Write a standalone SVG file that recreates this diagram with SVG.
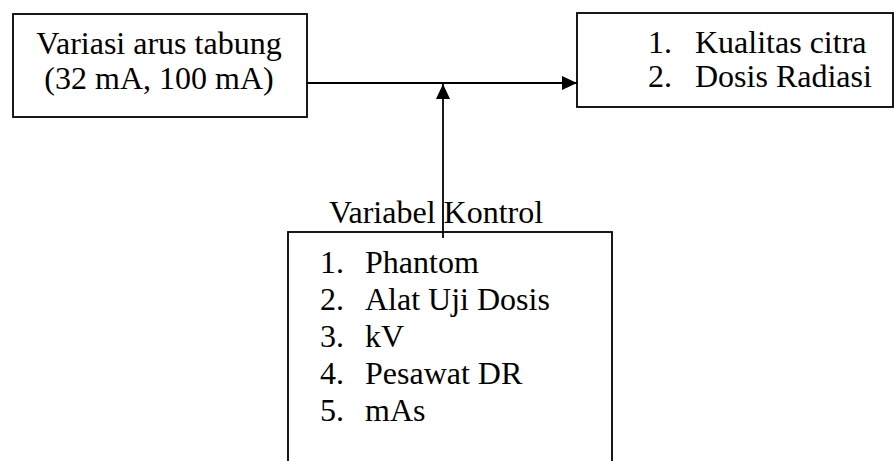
<svg xmlns="http://www.w3.org/2000/svg" width="894" height="461" viewBox="0 0 894 461">
<style>
.box{fill:#fff;stroke:#000;stroke-width:1.8}
.t{font-family:"Liberation Serif","Times New Roman",serif;font-size:32px;fill:#000}
.ln{stroke:#000;stroke-width:1.8;fill:none}
</style>
<defs>
<marker id="ah" markerWidth="16" markerHeight="16" viewBox="0 0 16 16" refX="15" refY="8" orient="auto" markerUnits="userSpaceOnUse">
<path d="M0,1 L15,8 L0,15 Z" fill="#000"/>
</marker>
</defs>
<g id="node-variasi">
<rect class="box" x="13" y="14" width="294" height="103"/>
<text class="t" x="159" y="54" text-anchor="middle">Variasi arus tabung</text>
<text class="t" x="159" y="89" text-anchor="middle">(32 mA, 100 mA)</text>
</g>
<g id="node-hasil">
<rect class="box" x="577" y="13" width="316" height="94"/>
<text class="t"><tspan x="648" y="53">1.</tspan><tspan x="695" y="53">Kualitas citra</tspan></text>
<text class="t"><tspan x="648" y="87">2.</tspan><tspan x="695" y="87">Dosis Radiasi</tspan></text>
</g>
<g id="node-kontrol">
<text class="t" x="436" y="223" text-anchor="middle">Variabel Kontrol</text>
<rect class="box" x="288" y="232" width="324" height="250"/>
<text class="t"><tspan x="320" y="273">1.</tspan><tspan x="365" y="273">Phantom</tspan></text>
<text class="t"><tspan x="320" y="310">2.</tspan><tspan x="365" y="310">Alat Uji Dosis</tspan></text>
<text class="t"><tspan x="320" y="347">3.</tspan><tspan x="365" y="347">kV</tspan></text>
<text class="t"><tspan x="320" y="384">4.</tspan><tspan x="365" y="384">Pesawat DR</tspan></text>
<text class="t"><tspan x="320" y="421">5.</tspan><tspan x="365" y="421">mAs</tspan></text>
</g>
<g id="connectors">
<line class="ln" x1="307" y1="83" x2="577" y2="83" marker-end="url(#ah)"/>
<line class="ln" x1="443" y1="238" x2="443" y2="84" marker-end="url(#ah)"/>
</g>
</svg>
